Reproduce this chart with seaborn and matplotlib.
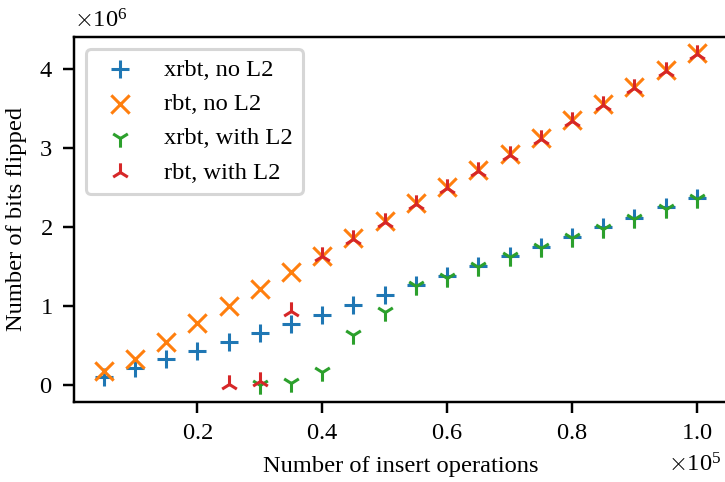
import numpy as np
import pandas as pd
import matplotlib
matplotlib.use("Agg")
import matplotlib.pyplot as plt
import seaborn as sns

# x values in units of 1e5 inserts
x_all = [0.05, 0.10, 0.15, 0.20, 0.25, 0.30, 0.35, 0.40, 0.45, 0.50,
         0.55, 0.60, 0.65, 0.70, 0.75, 0.80, 0.85, 0.90, 0.95, 1.00]
# values in units of 1e6 bits
xrbt_no_l2 = [0.10, 0.22, 0.33, 0.43, 0.54, 0.66, 0.77, 0.89, 1.02, 1.14,
              1.27, 1.38, 1.51, 1.63, 1.75, 1.87, 2.00, 2.12, 2.25, 2.37]
rbt_no_l2 = [0.18, 0.33, 0.54, 0.79, 1.00, 1.22, 1.43, 1.64, 1.86, 2.08,
             2.30, 2.51, 2.72, 2.92, 3.13, 3.35, 3.56, 3.77, 3.99, 4.20]
x_xrbt_l2 = [0.30, 0.35, 0.40, 0.45, 0.50, 0.55, 0.60, 0.65, 0.70, 0.75,
             0.80, 0.85, 0.90, 0.95, 1.00]
xrbt_with_l2 = [0.00, 0.03, 0.16, 0.64, 0.92, 1.25, 1.36, 1.50, 1.62, 1.74,
                1.86, 1.98, 2.10, 2.23, 2.35]
x_rbt_l2 = [0.25, 0.30, 0.35, 0.40, 0.45, 0.50, 0.55, 0.60, 0.65, 0.70,
            0.75, 0.80, 0.85, 0.90, 0.95, 1.00]
rbt_with_l2 = [0.01, 0.05, 0.94, 1.63, 1.85, 2.07, 2.29, 2.50, 2.71, 2.91,
               3.12, 3.34, 3.55, 3.76, 3.98, 4.19]

labels = ["xrbt, no L2", "rbt, no L2", "xrbt, with L2", "rbt, with L2"]
markers = ["+", "x", "1", "2"]
colors = ["#1f77b4", "#ff7f0e", "#2ca02c", "#d62728"]

plt.rcParams["font.family"] = ["Liberation Serif", "DejaVu Serif"]
plt.rcParams["font.size"] = 8
plt.rcParams["mathtext.fontset"] = "cm"
plt.rcParams["axes.formatter.use_mathtext"] = True

DPI = 220
fig = plt.figure(figsize=(725 / DPI, 482 / DPI), dpi=DPI)
ax = fig.add_axes([74 / 725, 80.3 / 482, 652.6 / 725, 365 / 482])

series = [
    (x_all, xrbt_no_l2),
    (x_all, rbt_no_l2),
    (x_xrbt_l2, xrbt_with_l2),
    (x_rbt_l2, rbt_with_l2),
]
for (xs, ys), lab, mk, col in zip(series, labels, markers, colors):
    df = pd.DataFrame({"x": np.array(xs) * 1e5, "y": np.array(ys) * 1e6})
    sns.scatterplot(data=df, x="x", y="y", ax=ax, marker=mk, color=col,
                    s=36, linewidth=1.0, label=lab)

ax.set_xlabel("Number of insert operations")
ax.set_ylabel("Number of bits flipped")
ax.ticklabel_format(style="sci", axis="both", scilimits=(0, 0))
ax.spines["right"].set_visible(False)
ax.legend(loc="upper left")
ax.xaxis.get_offset_text().set_x(0.993)

fig.savefig("out.png", dpi=DPI)
